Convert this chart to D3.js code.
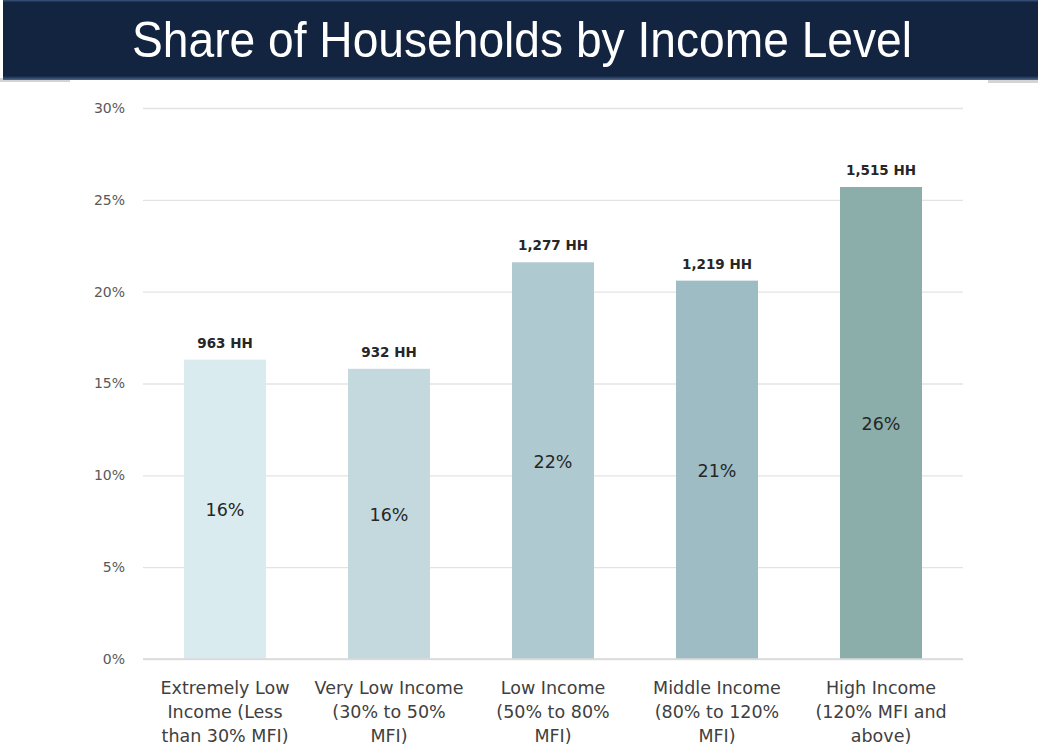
<!DOCTYPE html>
<html>
<head>
<meta charset="utf-8">
<script src="https://cdn.jsdelivr.net/npm/d3@7"></script>
<style>
  body { margin: 0; background: #fff; }
  text { font-family: "DejaVu Sans", "Liberation Sans", Arial, sans-serif; }
  .title { font-family: "Liberation Sans Narrow", "Liberation Sans", Arial, sans-serif; }
</style>
</head>
<body>
<svg id="chart"></svg>
<script>
// data
const categories = [
  ["Extremely Low", "Income (Less", "than 30% MFI)"],
  ["Very Low Income", "(30% to 50%", "MFI)"],
  ["Low Income", "(50% to 80%", "MFI)"],
  ["Middle Income", "(80% to 120%", "MFI)"],
  ["High Income", "(120% MFI and", "above)"]
];
const shares = [16.3, 15.8, 21.6, 20.6, 25.7];
const households = ["963 HH", "932 HH", "1,277 HH", "1,219 HH", "1,515 HH"];
const barColors = ["#d9ebee", "#c4d9dd", "#afc9d1", "#9dbcc4", "#8baeab"];
const yTicks = [0, 5, 10, 15, 20, 25, 30];

const width = 1038, height = 751;
const margin = { top: 108, right: 75, bottom: 92, left: 143 };
const innerW = width - margin.left - margin.right;
const innerH = height - margin.top - margin.bottom;

const svg = d3.select("#chart").attr("width", width).attr("height", height);

// header band
const defs = svg.append("defs");
const grad = defs.append("linearGradient").attr("id", "hdr").attr("x1", 0).attr("y1", 0).attr("x2", 0).attr("y2", 1);
grad.append("stop").attr("offset", "0%").attr("stop-color", "#3a5680");
grad.append("stop").attr("offset", "3%").attr("stop-color", "#12243f");
grad.append("stop").attr("offset", "95%").attr("stop-color", "#12243f");
grad.append("stop").attr("offset", "100%").attr("stop-color", "#4d6890");

svg.append("rect").attr("x", 0).attr("y", 78).attr("width", 70).attr("height", 4).attr("fill", "#d4d4d4");
svg.append("rect").attr("x", 988).attr("y", 78).attr("width", 50).attr("height", 5).attr("fill", "#d4d4d4");
svg.append("rect").attr("x", 3).attr("y", 0).attr("width", width - 3).attr("height", 80).attr("fill", "url(#hdr)");

svg.append("text")
  .attr("class", "title")
  .attr("x", 522).attr("y", 57)
  .attr("text-anchor", "middle")
  .attr("fill", "#ffffff")
  .attr("font-size", 50)
  .attr("textLength", 780)
  .attr("lengthAdjust", "spacingAndGlyphs")
  .text("Share of Households by Income Level");

const chart = svg.append("g").attr("transform", `translate(${margin.left},${margin.top})`);

const x = d3.scaleBand().domain(d3.range(categories.length)).range([0, innerW]).paddingInner(0.5).paddingOuter(0.25);
const y = d3.scaleLinear().domain([0, 30]).range([innerH, 0]);

// gridlines + y axis
const yAxis = d3.axisLeft(y).tickValues(yTicks).tickFormat(d => d + "%").tickSize(-innerW).tickPadding(18);
const yAxisG = chart.append("g").attr("class", "axis y-axis").call(yAxis);
yAxisG.select(".domain").remove();
yAxisG.selectAll(".tick line").attr("stroke", "#e3e3e3").attr("stroke-width", 1.3);
yAxisG.selectAll(".tick text")
  .attr("fill", "#595959")
  .attr("font-size", 14)
  .attr("font-family", "DejaVu Sans Condensed, DejaVu Sans, sans-serif");

// bars
chart.selectAll(".bar")
  .data(shares)
  .enter()
  .append("rect")
  .attr("class", "bar")
  .attr("x", (d, i) => x(i))
  .attr("width", x.bandwidth())
  .attr("y", d => y(d))
  .attr("height", d => innerH - y(d))
  .attr("fill", (d, i) => barColors[i]);

// baseline
chart.append("line")
  .attr("x1", 0).attr("x2", innerW)
  .attr("y1", innerH).attr("y2", innerH)
  .attr("stroke", "#d9d9d9").attr("stroke-width", 1.5);

// household count labels
chart.selectAll(".hh")
  .data(shares)
  .enter()
  .append("text")
  .attr("class", "hh")
  .attr("x", (d, i) => x(i) + x.bandwidth() / 2)
  .attr("y", d => y(d) - 12)
  .attr("text-anchor", "middle")
  .attr("font-size", 13.5)
  .attr("font-weight", "bold")
  .attr("fill", "#262626")
  .text((d, i) => households[i]);

// share labels inside bars
chart.selectAll(".pct")
  .data(shares)
  .enter()
  .append("text")
  .attr("class", "pct")
  .attr("x", (d, i) => x(i) + x.bandwidth() / 2)
  .attr("y", d => (y(d) + innerH) / 2 + 7)
  .attr("text-anchor", "middle")
  .attr("font-size", 17.5)
  .attr("fill", "#262626")
  .text(d => Math.round(d) + "%");

// category labels
const cat = chart.selectAll(".cat")
  .data(categories)
  .enter()
  .append("text")
  .attr("class", "cat")
  .attr("text-anchor", "middle")
  .attr("font-size", 17.5)
  .attr("fill", "#404040");
cat.selectAll("tspan")
  .data(d => d)
  .enter()
  .append("tspan")
  .attr("x", function () { const i = categories.indexOf(d3.select(this.parentNode).datum()); return x(i) + x.bandwidth() / 2; })
  .attr("y", (d, j) => innerH + 35 + j * 24)
  .text(d => d);
</script>
</body>
</html>
